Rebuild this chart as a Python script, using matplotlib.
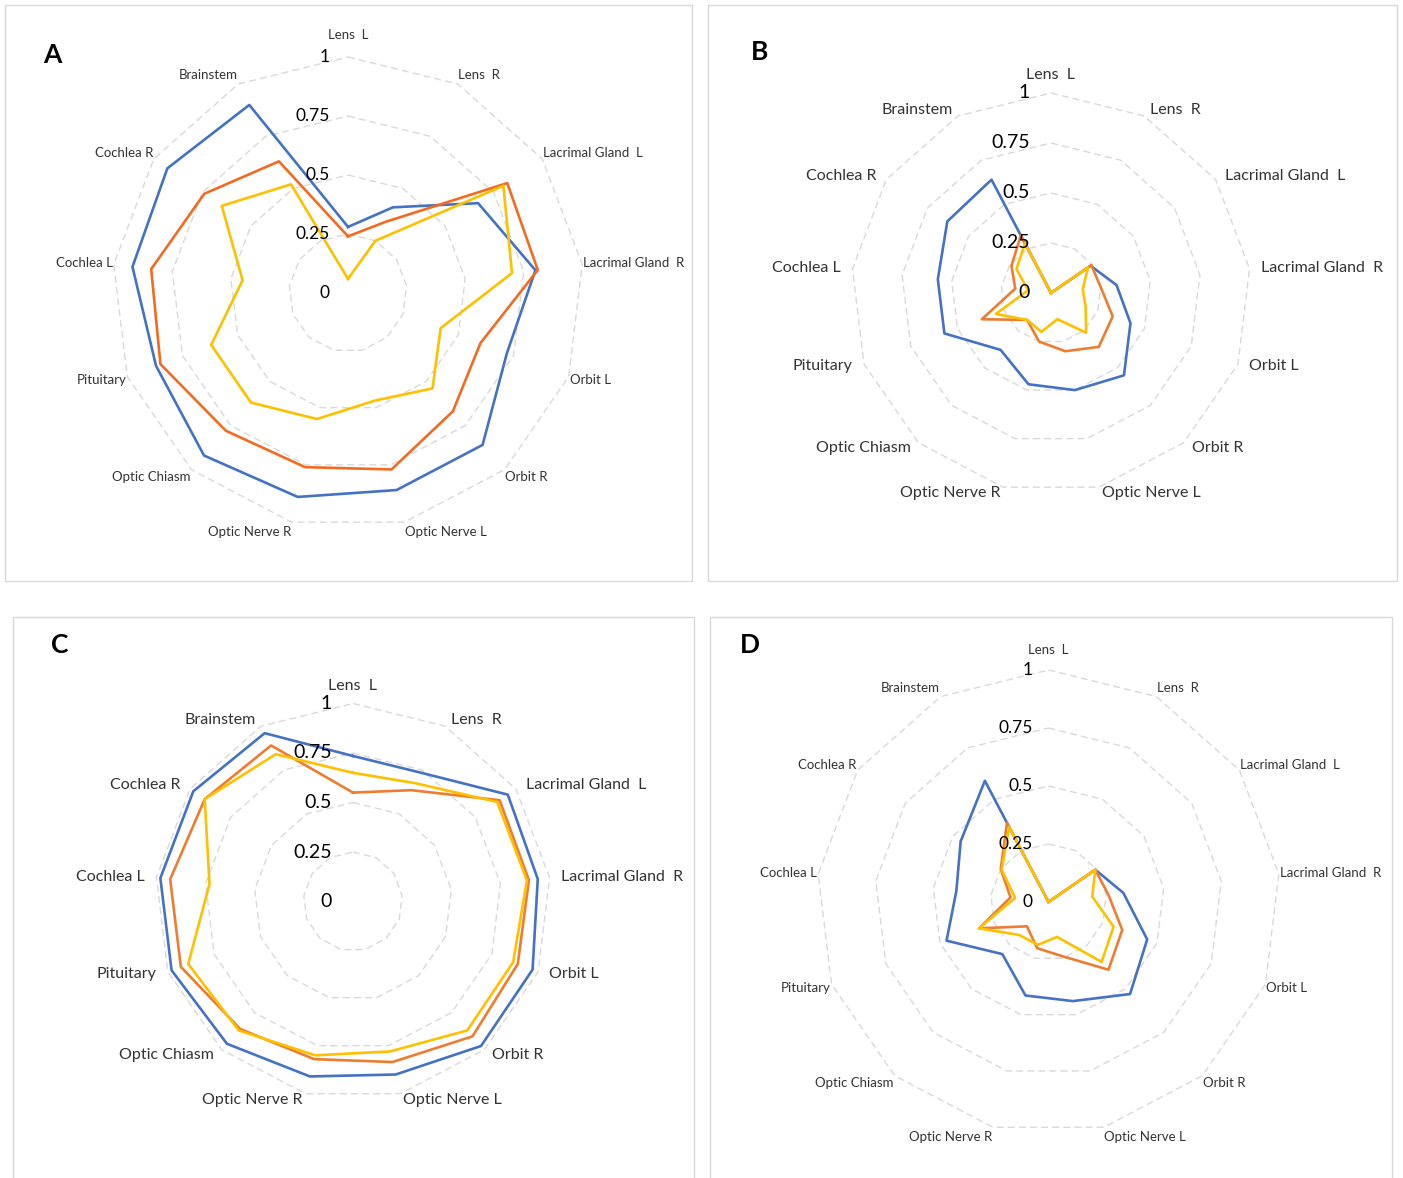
import numpy as np
import matplotlib
matplotlib.use("Agg")
import matplotlib.pyplot as plt
from matplotlib.patches import Rectangle

plt.rcParams["font.family"] = ["Lato", "DejaVu Sans"]

# organs at risk, clockwise from the top
categories = ["Lens  L", "Lens  R", "Lacrimal Gland  L", "Lacrimal Gland  R",
              "Orbit L", "Orbit R", "Optic Nerve L", "Optic Nerve R",
              "Optic Chiasm", "Pituitary", "Cochlea L", "Cochlea R", "Brainstem"]
levels = [0, 0.25, 0.5, 0.75, 1]
level_labels = ["0", "0.25", "0.5", "0.75", "1"]

a_blue = [0.28, 0.41, 0.67, 0.80, 0.72, 0.86, 0.86, 0.89, 0.92, 0.87, 0.92, 0.93, 0.90]
a_orange = [0.24, 0.34, 0.82, 0.81, 0.60, 0.67, 0.77, 0.76, 0.78, 0.85, 0.84, 0.74, 0.63]
a_yellow = [0.06, 0.25, 0.80, 0.70, 0.42, 0.54, 0.47, 0.55, 0.62, 0.62, 0.45, 0.65, 0.52]

b_blue = [0, 0, 0.24, 0.33, 0.425, 0.55, 0.50, 0.47, 0.38, 0.57, 0.57, 0.63, 0.64]
b_orange = [0, 0, 0.245, 0.25, 0.33, 0.36, 0.30, 0.25, 0.18, 0.37, 0.18, 0.24, 0.325]
b_yellow = [0, 0, 0.225, 0.16, 0.185, 0.265, 0.135, 0.20, 0.18, 0.295, 0.115, 0.21, 0.28]

c_blue = [0.735, 0.735, 0.95, 0.94, 0.97, 0.975, 0.90, 0.91, 0.96, 0.98, 0.98, 0.98, 0.96]
c_orange = [0.55, 0.635, 0.90, 0.895, 0.89, 0.91, 0.835, 0.82, 0.86, 0.93, 0.93, 0.91, 0.89]
c_yellow = [0.65, 0.675, 0.885, 0.885, 0.865, 0.87, 0.78, 0.80, 0.87, 0.89, 0.73, 0.91, 0.84]

d_blue = [0, 0, 0.245, 0.325, 0.455, 0.53, 0.44, 0.415, 0.30, 0.47, 0.40, 0.46, 0.59]
d_orange = [0, 0, 0.245, 0.26, 0.34, 0.39, 0.24, 0.205, 0.14, 0.32, 0.165, 0.25, 0.385]
d_yellow = [0, 0, 0.245, 0.19, 0.30, 0.345, 0.155, 0.19, 0.19, 0.32, 0.145, 0.245, 0.365]

W, H = 1403, 1178
fig = plt.figure(figsize=(W / 100, H / 100), dpi=100)


def pt(v):
    # pixel offset -> points at 100 dpi
    return v * 0.72


panels = [
    dict(tag="A", series=(a_blue, a_orange, a_yellow), orange="#F26B21",
         cx=348, cy=293, r=236, box=(5, 5, 692, 581), tag_xy=(52, 55),
         cat_size=9.5, tick_size=12.5, gx=1, gy=10, top_dy=22, tick_gap=18),
    dict(tag="B", series=(b_blue, b_orange, b_yellow), orange="#ED7D31",
         cx=1051, cy=293, r=200, box=(708, 5, 1397, 581), tag_xy=(760, 52),
         cat_size=11.5, tick_size=14, gx=12, gy=6.5, top_dy=18, tick_gap=21),
    dict(tag="C", series=(c_blue, c_orange, c_yellow), orange="#ED7D31",
         cx=353, cy=901.5, r=198, box=(13, 617, 694, 1200), tag_xy=(60, 645),
         cat_size=11.5, tick_size=14, gx=12, gy=6.5, top_dy=18, tick_gap=21),
    dict(tag="D", series=(d_blue, d_orange, d_yellow), orange="#ED7D31",
         cx=1048.5, cy=902, r=232, box=(710, 617, 1392, 1200), tag_xy=(750, 645),
         cat_size=9.5, tick_size=12.5, gx=1, gy=10, top_dy=20, tick_gap=16),
]

theta = np.linspace(0, 2 * np.pi, len(categories), endpoint=False)
closed = np.append(theta, theta[0])

for p in panels:
    x0, y0, x1, y1 = p["box"]
    fig.add_artist(Rectangle((x0 / W, 1 - y1 / H), (x1 - x0) / W, (y1 - y0) / H,
                             transform=fig.transFigure, fill=False,
                             ec="#D9D9D9", lw=1))
    fig.text(p["tag_xy"][0] / W, 1 - p["tag_xy"][1] / H, p["tag"],
             fontsize=19, fontweight="bold", ha="center", va="center")

    cx, cy, r = p["cx"], p["cy"], p["r"]
    ax = fig.add_axes([(cx - r) / W, 1 - (cy + r) / H, 2 * r / W, 2 * r / H],
                      projection="polar")
    ax.set_theta_offset(np.pi / 2)
    ax.set_theta_direction(-1)
    ax.set_ylim(0, 1)
    ax.axis("off")

    # dashed rings
    for lv in levels[1:]:
        ax.plot(closed, [lv] * len(closed), color="#D9D9D9", lw=1,
                ls=(0, (5, 3)), clip_on=False)

    for vals, col in zip(p["series"], ["#4472C4", p["orange"], "#FFC000"]):
        ax.plot(closed, list(vals) + [vals[0]], color=col, lw=1.9,
                clip_on=False)

    # ring values along the vertical axis
    for lv, lab in zip(levels, level_labels):
        ax.annotate(lab, (0, lv), xytext=(-pt(p["tick_gap"]), 0),
                    textcoords="offset points", ha="right", va="center",
                    fontsize=p["tick_size"], color="black",
                    annotation_clip=False)

    # category names around the outer ring
    for t, name in zip(theta, categories):
        s, c = np.sin(t), np.cos(t)
        if abs(s) < 0.1:
            ha, dx, dy = "center", 0, p["top_dy"]
        else:
            ha = "left" if s > 0 else "right"
            dx, dy = p["gx"] * s, p["gy"] * c
        ax.annotate(name, (t, 1), xytext=(pt(dx), pt(dy)),
                    textcoords="offset points", ha=ha, va="center",
                    fontsize=p["cat_size"], color="#333333",
                    annotation_clip=False)

fig.savefig("out.png", dpi=100, facecolor="white")
